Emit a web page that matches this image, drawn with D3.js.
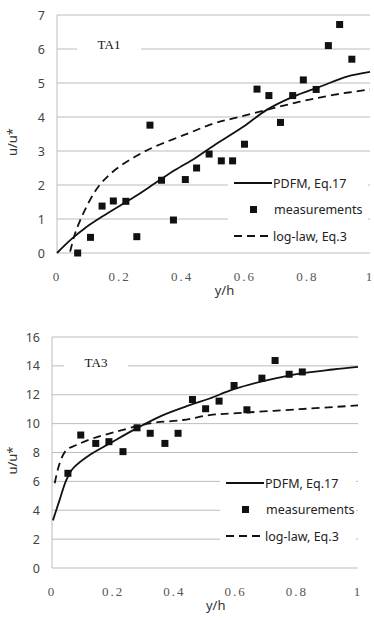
<!DOCTYPE html>
<html>
<head>
<meta charset="utf-8">
<script src="https://cdn.jsdelivr.net/npm/d3@7"></script>
<style>
  body { margin: 0; background: #fff; }
  svg { display: block; }
</style>
</head>
<body>
<div id="chart-area"></div>
<script>
// data
var xTicks = [0, 0.2, 0.4, 0.6, 0.8, 1];

// TA1
var ta1Meas = [
  [0.066, 0.00], [0.107, 0.46], [0.144, 1.38], [0.180, 1.53], [0.220, 1.52],
  [0.255, 0.48], [0.297, 3.76], [0.334, 2.14], [0.372, 0.97], [0.410, 2.16],
  [0.446, 2.50], [0.486, 2.91], [0.525, 2.71], [0.561, 2.71], [0.599, 3.20],
  [0.639, 4.82], [0.677, 4.63], [0.714, 3.84], [0.753, 4.63], [0.787, 5.09],
  [0.828, 4.81], [0.867, 6.10], [0.903, 6.72], [0.942, 5.70]
];
var ta1Pdfm = [
  [0, 0], [0.045, 0.40], [0.089, 0.73], [0.153, 1.12], [0.249, 1.66],
  [0.313, 2.05], [0.377, 2.44], [0.441, 2.79], [0.499, 3.15], [0.595, 3.71],
  [0.67, 4.21], [0.755, 4.60], [0.84, 4.89], [0.926, 5.19], [1.0, 5.33]
];
var ta1Log = [
  [0.042, 0.04], [0.058, 0.58], [0.089, 1.26], [0.132, 1.95], [0.185, 2.44],
  [0.249, 2.83], [0.313, 3.13], [0.42, 3.52], [0.5, 3.81], [0.563, 3.96],
  [0.67, 4.21], [0.776, 4.45], [0.883, 4.65], [1.0, 4.81]
];
var ta1YTicks = [0, 1, 2, 3, 4, 5, 6, 7];

// TA3
var ta3Meas = [
  [0.052, 6.56], [0.094, 9.21], [0.143, 8.63], [0.186, 8.75], [0.232, 8.06],
  [0.278, 9.71], [0.321, 9.33], [0.369, 8.63], [0.412, 9.33], [0.459, 11.67],
  [0.502, 11.03], [0.546, 11.56], [0.595, 12.64], [0.637, 10.96], [0.686, 13.15],
  [0.729, 14.37], [0.775, 13.42], [0.818, 13.58]
];
var ta3Pdfm = [
  [0.003, 3.30], [0.025, 4.72], [0.047, 6.10], [0.069, 6.91], [0.123, 7.83],
  [0.189, 8.63], [0.276, 9.67], [0.363, 10.59], [0.45, 11.28], [0.515, 11.74],
  [0.592, 12.37], [0.701, 13.00], [0.81, 13.47], [0.918, 13.75], [1.0, 13.93]
];
var ta3Log = [
  [0.009, 5.87], [0.025, 7.25], [0.047, 8.17], [0.08, 8.52], [0.134, 8.98],
  [0.21, 9.44], [0.319, 10.02], [0.428, 10.25], [0.515, 10.59], [0.592, 10.71],
  [0.81, 11.00], [1.0, 11.26]
];
var ta3YTicks = [0, 2, 4, 6, 8, 10, 12, 14, 16];

var legendLabels = ["PDFM, Eq.17", "measurements", "log-law, Eq.3"];

var svg = d3.select("#chart-area").append("svg")
    .attr("width", 374)
    .attr("height", 618);

function drawPanel(opt) {
    var x = d3.scaleLinear().domain([0, 1]).range([opt.left, opt.right]);
    var y = d3.scaleLinear().domain([0, opt.yMax]).range([opt.bottom, opt.top]);
    var g = svg.append("g");

    // grid
    g.selectAll(".grid").data(opt.yTicks).enter().append("line")
        .attr("x1", opt.left).attr("x2", opt.right)
        .attr("y1", (d) => y(d)).attr("y2", (d) => y(d))
        .attr("stroke", "#bcbcbc").attr("stroke-width", 1);

    g.append("line")
        .attr("x1", opt.left).attr("x2", opt.left)
        .attr("y1", opt.top).attr("y2", opt.bottom)
        .attr("stroke", "#bcbcbc");

    // y tick labels
    g.selectAll(".ytick").data(opt.yTicks).enter().append("text")
        .attr("x", opt.left - 12)
        .attr("y", (d) => y(d) + 4.5)
        .attr("text-anchor", "end")
        .style("font-family", "'Noto Sans', sans-serif")
        .style("font-size", "12.5px")
        .style("fill", "#444")
        .text((d) => d);

    // x tick labels
    g.selectAll(".xtick").data(xTicks).enter().append("text")
        .attr("x", (d) => x(d))
        .attr("y", opt.bottom + 28)
        .attr("text-anchor", "middle")
        .style("font-family", "'Liberation Serif', serif")
        .style("font-size", "13px")
        .style("letter-spacing", "2px")
        .style("fill", "#555")
        .text((d) => d);

    g.append("text")
        .attr("x", x(0.535))
        .attr("y", opt.bottom + 42)
        .attr("text-anchor", "middle")
        .style("font-family", "'Noto Sans', sans-serif")
        .style("font-size", "13px")
        .style("fill", "#333")
        .text("y/h");

    g.append("text")
        .attr("transform", "translate(17," + ((opt.top + opt.bottom) / 2 + 8) + ") rotate(-90)")
        .attr("text-anchor", "middle")
        .style("font-family", "'Noto Sans', sans-serif")
        .style("font-size", "13px")
        .style("fill", "#333")
        .text("u/u*");

    // title box
    g.append("rect")
        .attr("x", opt.titleX - 32).attr("y", opt.titleY - 14)
        .attr("width", 64).attr("height", 22)
        .attr("fill", "#fff");
    g.append("text")
        .attr("x", opt.titleX).attr("y", opt.titleY + 1)
        .attr("text-anchor", "middle")
        .style("font-family", "'Liberation Serif', serif")
        .style("font-size", "13px")
        .style("fill", "#111")
        .text(opt.title);

    // legend box
    g.append("rect")
        .attr("x", opt.legX - 6).attr("y", opt.legY - 16)
        .attr("width", opt.right - 2 - (opt.legX - 6)).attr("height", opt.legH)
        .attr("fill", "#fff");

    var line = d3.line().x((d) => x(d[0])).y((d) => y(d[1])).curve(d3.curveCatmullRom.alpha(0.5));

    g.append("path").datum(opt.pdfm)
        .attr("d", line)
        .attr("fill", "none").attr("stroke", "#111").attr("stroke-width", 1.8);

    g.append("path").datum(opt.logLaw)
        .attr("d", line)
        .attr("fill", "none").attr("stroke", "#111").attr("stroke-width", 1.8)
        .attr("stroke-dasharray", "8,5");

    g.selectAll(".meas").data(opt.meas).enter().append("rect")
        .attr("x", (d) => x(d[0]) - 3.5)
        .attr("y", (d) => y(d[1]) - 3.5)
        .attr("width", 7).attr("height", 7)
        .attr("fill", "#111");

    // legend
    var ls = opt.legStep;
    g.append("line")
        .attr("x1", opt.legX).attr("x2", opt.legX + 38)
        .attr("y1", opt.legY).attr("y2", opt.legY)
        .attr("stroke", "#111").attr("stroke-width", 1.8);
    g.append("rect")
        .attr("x", opt.legX + 16).attr("y", opt.legY + ls - 3.5)
        .attr("width", 7).attr("height", 7).attr("fill", "#111");
    g.append("line")
        .attr("x1", opt.legX).attr("x2", opt.legX + 38)
        .attr("y1", opt.legY + 2 * ls).attr("y2", opt.legY + 2 * ls)
        .attr("stroke", "#111").attr("stroke-width", 1.8)
        .attr("stroke-dasharray", "8,5");

    g.selectAll(".leg").data(legendLabels).enter().append("text")
        .attr("x", (d, i) => opt.legX + (i == 1 ? 40 : 39))
        .attr("y", (d, i) => opt.legY + i * ls + 4.5)
        .style("font-family", "'Noto Sans', sans-serif")
        .style("font-size", "12.5px")
        .style("fill", "#222")
        .text((d) => d);
}

drawPanel({
    left: 57, right: 370, top: 15, bottom: 253, yMax: 7, yTicks: ta1YTicks,
    title: "TA1", titleX: 109, titleY: 48,
    legX: 234, legY: 183, legStep: 26.5, legH: 78,
    meas: ta1Meas, pdfm: ta1Pdfm, logLaw: ta1Log
});

drawPanel({
    left: 52, right: 358, top: 337, bottom: 568, yMax: 16, yTicks: ta3YTicks,
    title: "TA3", titleX: 96, titleY: 366,
    legX: 226, legY: 483, legStep: 26.5, legH: 78,
    meas: ta3Meas, pdfm: ta3Pdfm, logLaw: ta3Log
});
</script>
</body>
</html>
